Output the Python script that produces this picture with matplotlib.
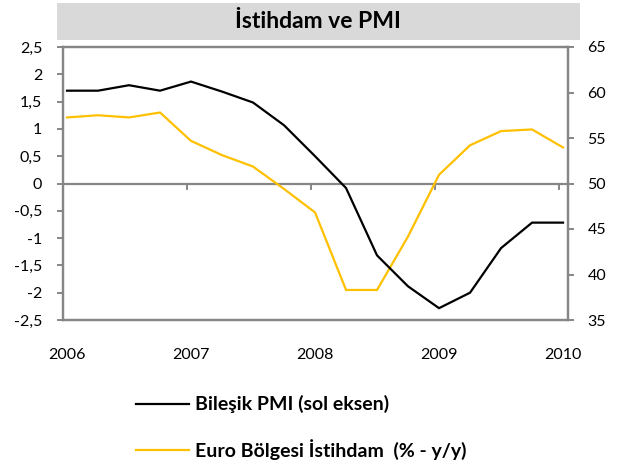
import matplotlib
matplotlib.use("Agg")
import matplotlib.pyplot as plt
from matplotlib.patches import Rectangle
from matplotlib.lines import Line2D
import matplotlib.transforms as mtransforms

plt.rcParams['font.family'] = ['Lato', 'DejaVu Sans']

# Quarterly observations, 2006Q1 .. 2010Q1
quarters = list(range(17))
year_labels = ["2006", "2007", "2008", "2009", "2010"]
year_positions = [0, 4, 8, 12, 16]

# Composite PMI (index)
pmi = [60.2, 60.2, 60.8, 60.2, 61.2, 60.1, 58.9, 56.4, 53.0, 49.5,
       42.1, 38.7, 36.3, 38.0, 42.9, 45.7, 45.7]
# Euro area employment (% y/y)
employment = [1.21, 1.25, 1.21, 1.30, 0.78, 0.52, 0.31, -0.10, -0.53, -1.95,
              -1.95, -0.97, 0.16, 0.70, 0.96, 0.99, 0.66]

left_ticks = [2.5, 2, 1.5, 1, 0.5, 0, -0.5, -1, -1.5, -2, -2.5]
right_ticks = [65, 60, 55, 50, 45, 40, 35]

title = "İstihdam ve PMI"
legend_labels = ["Bileşik PMI (sol eksen)", "Euro Bölgesi İstihdam  (% - y/y)"]

BLACK = "#000000"
GOLD = "#FFC000"
GRAY = "#868686"

fig = plt.figure(figsize=(6.2, 4.71), dpi=100)
W, H = 620, 471
ax = fig.add_axes([63 / W, 1 - 320 / H, (568 - 63) / W, (320 - 47) / H])
ax2 = ax.twinx()

x_lo, x_hi = -0.13, 16.16
ax.set_xlim(x_lo, x_hi)
ax.set_ylim(-2.5, 2.5)
ax2.set_ylim(35, 65)

ax.plot(quarters, employment, color=GOLD, lw=1.6, solid_joinstyle='miter', zorder=3)
ax2.plot(quarters, pmi, color=BLACK, lw=1.6, solid_joinstyle='miter', zorder=3)

def comma(v):
    return ("%g" % v).replace(".", ",")

ax.set_yticks(left_ticks)
ax.set_yticklabels([comma(v) for v in left_ticks])
ax2.set_yticks(right_ticks)
ax2.set_yticklabels([str(v) for v in right_ticks])

for a in (ax, ax2):
    for sp in a.spines.values():
        sp.set_color(GRAY)
        sp.set_linewidth(1.6)
    a.tick_params(axis='y', length=4, width=1.4, color=GRAY, labelsize=11.5,
                  labelcolor="#000000")
ax.tick_params(axis='y', pad=11)
ax2.tick_params(axis='y', pad=10)
ax.set_xticks([])

# zero line with category tick marks
ax.axhline(0, color=GRAY, lw=1.6, zorder=2)
for xt in [3.87, 7.86, 11.86, 15.87]:
    ax.plot([xt, xt], [0, -0.1], color=GRAY, lw=1.4, zorder=2, clip_on=False)

# year labels under the plot
trans = mtransforms.blended_transform_factory(ax.transData, fig.transFigure)
for xp, lab in zip(year_positions, year_labels):
    ax.text(xp, 1 - 355 / H, lab, transform=trans, ha='center', va='center',
            fontsize=11.5)

# title band
fig.patches.append(Rectangle((57 / W, 1 - 40 / H), (580 - 57) / W, 37 / H,
                             transform=fig.transFigure, facecolor="#D9D9D9",
                             edgecolor='none', zorder=0))
fig.text(318 / W, 1 - 21 / H, title, ha='center', va='center', fontsize=16.5,
         fontweight='bold')

# legend entries
for ly, col, lab in [(404, BLACK, legend_labels[0]), (450, GOLD, legend_labels[1])]:
    fig.lines.append(Line2D([136 / W, 189 / W], [1 - ly / H, 1 - ly / H],
                            transform=fig.transFigure, color=col, lw=1.6))
    fig.text(195 / W, 1 - ly / H, lab, ha='left', va='center', fontsize=14,
             fontweight='bold')

fig.savefig("out.png", dpi=100)
